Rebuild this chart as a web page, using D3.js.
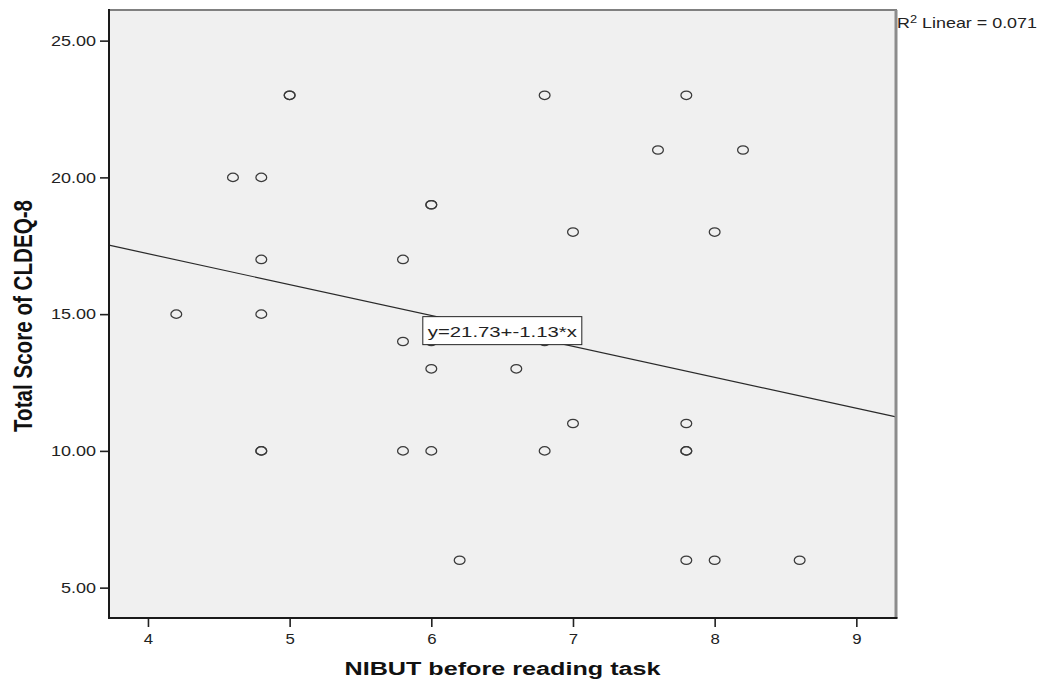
<!DOCTYPE html>
<html>
<head>
<meta charset="utf-8">
<script src="https://cdn.jsdelivr.net/npm/d3@7"></script>
<style>
  html, body { margin: 0; padding: 0; background: #ffffff; }
  svg { display: block; }
  text { font-family: "Liberation Sans", Arial, sans-serif; }
</style>
</head>
<body>
<svg id="chart" width="1045" height="682"></svg>
<script>
// ---- data ----
const nibut = [4.2, 4.6, 4.8, 4.8, 4.8, 4.8, 4.8, 5.0, 5.0, 5.8, 5.8, 5.8, 6.0, 6.0, 6.0, 6.0, 6.0, 6.2, 6.6, 6.8, 6.8, 6.8, 7.0, 7.0, 7.6, 7.8, 7.8, 7.8, 7.8, 7.8, 8.0, 8.0, 8.2, 8.6];
const score = [15, 20, 20, 17, 15, 10, 10, 23, 23, 17, 14, 10, 19, 19, 14, 13, 10, 6, 13, 23, 14, 10, 18, 11, 21, 23, 11, 10, 10, 6, 18, 6, 21, 6];
const xTicks = [4, 5, 6, 7, 8, 9];
const yTicks = [5, 10, 15, 20, 25];
const xDomain = [3.725, 9.28];
const yDomain = [3.89, 26.12];
const fitIntercept = 21.73;
const fitSlope = -1.13;
const r2Value = "0.071";
const eqLabel = "y=21.73+-1.13*x";
const eqAnchorX = 5.94;
const xTitle = "NIBUT before reading task";
const yTitle = "Total Score of CLDEQ-8";

// ---- layout ----
const L = 109, R = 896, T = 10, B = 618;
const svg = d3.select("#chart");

const x = d3.scaleLinear().domain(xDomain).range([L, R]);
const y = d3.scaleLinear().domain(yDomain).range([B, T]);

function stretch(sel, f) {
  sel.each(function() {
    const w = this.getComputedTextLength();
    d3.select(this).attr("textLength", w * f).attr("lengthAdjust", "spacingAndGlyphs");
  });
}

// plot background
svg.append("rect").attr("x", L).attr("y", T).attr("width", R - L).attr("height", B - T)
  .attr("fill", "#f0f0f0");

// regression line
const line = d3.line().x(d => x(d)).y(d => y(fitIntercept + fitSlope * d));
svg.append("path").datum(xDomain).attr("d", line)
  .attr("fill", "none").attr("stroke", "#2a2a2a").attr("stroke-width", 1.2);

// points
svg.append("g").selectAll("ellipse").data(nibut).join("ellipse")
  .attr("cx", d => x(d)).attr("cy", (d, i) => y(score[i]))
  .attr("rx", 5.4).attr("ry", 4.2)
  .attr("fill", "none").attr("stroke", "#3a3a3a").attr("stroke-width", 1.25);

// equation label
const ex = x(eqAnchorX), ey = y(fitIntercept + fitSlope * eqAnchorX) + 3;
svg.append("rect").attr("x", ex).attr("y", ey).attr("width", 159).attr("height", 28)
  .attr("fill", "#ffffff").attr("stroke", "#222").attr("stroke-width", 1);
svg.append("text").attr("x", ex + 5).attr("y", ey + 20.5)
  .attr("font-size", 15).attr("fill", "#222").text(eqLabel)
  .attr("textLength", 149).attr("lengthAdjust", "spacingAndGlyphs");

// axes
const yAxis = svg.append("g").attr("transform", `translate(${L},0)`)
  .call(d3.axisLeft(y).tickValues(yTicks).tickFormat(d3.format(".2f")).tickSize(9).tickPadding(4));
const xAxis = svg.append("g").attr("transform", `translate(0,${B})`)
  .call(d3.axisBottom(x).tickValues(xTicks).tickFormat(d3.format("d")).tickSize(9).tickPadding(7));
[yAxis, xAxis].forEach(g => {
  g.select(".domain").remove();
  g.selectAll(".tick line").attr("stroke", "#222").attr("stroke-width", 1.6);
  g.selectAll(".tick text").attr("fill", "#222").attr("font-family", "Liberation Sans, Arial, sans-serif");
});
yAxis.selectAll(".tick text").attr("font-size", 15).call(stretch, 1.2);
xAxis.selectAll(".tick text").attr("font-size", 14).call(stretch, 1.2);

// frame
svg.append("line").attr("x1", L).attr("x2", R + 1).attr("y1", T).attr("y2", T)
  .attr("stroke", "#808080").attr("stroke-width", 2);
svg.append("line").attr("x1", R).attr("x2", R).attr("y1", T).attr("y2", B)
  .attr("stroke", "#8c8c8c").attr("stroke-width", 3);
svg.append("line").attr("x1", L).attr("x2", L).attr("y1", T - 1).attr("y2", B + 1)
  .attr("stroke", "#1a1a1a").attr("stroke-width", 2);
svg.append("line").attr("x1", L - 1).attr("x2", R + 1.5).attr("y1", B).attr("y2", B)
  .attr("stroke", "#1a1a1a").attr("stroke-width", 2);

// axis titles
svg.append("text").attr("x", (L + R) / 2).attr("y", 675)
  .attr("text-anchor", "middle").attr("font-size", 18).attr("font-weight", "bold")
  .attr("fill", "#111").text(xTitle)
  .attr("textLength", 316).attr("lengthAdjust", "spacingAndGlyphs");

svg.append("g").attr("transform", "translate(32,316) scale(1.35,1)")
  .append("text").attr("transform", "rotate(-90)")
  .attr("text-anchor", "middle").attr("font-size", 19.5).attr("font-weight", "bold")
  .attr("fill", "#111").text(yTitle)
  .attr("textLength", 232).attr("lengthAdjust", "spacingAndGlyphs");

// R squared annotation
const r2 = svg.append("g").attr("transform", "translate(897,28) scale(1.28,1)")
  .append("text").attr("font-size", 14).attr("fill", "#222");
r2.append("tspan").text("R");
r2.append("tspan").attr("font-size", 10).attr("dy", -5.5).text("2");
r2.append("tspan").attr("dy", 5.5).text(" Linear = " + r2Value);
</script>
</body>
</html>
